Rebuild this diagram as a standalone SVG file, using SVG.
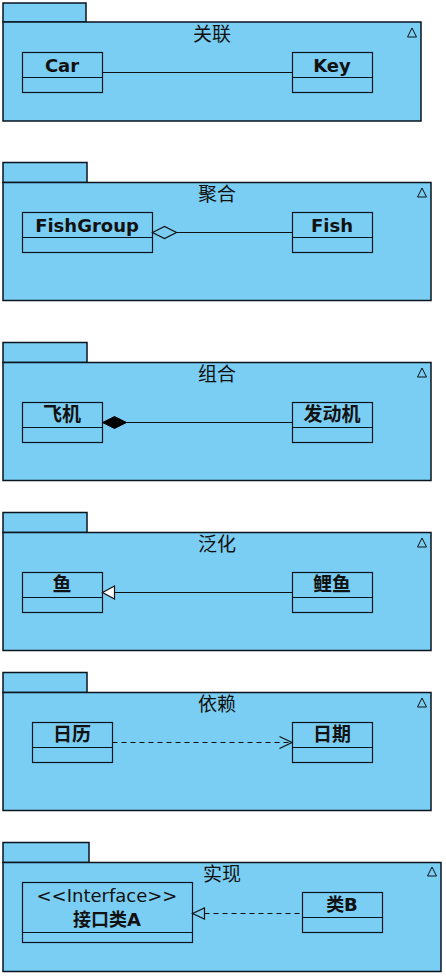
<svg xmlns="http://www.w3.org/2000/svg" width="446" height="976" viewBox="0 0 446 976">
<style>
.pk{fill:#7BCEF3;stroke:#0a1520;stroke-width:1.5}
.cl{fill:#7BCEF3;stroke:#0a1520;stroke-width:1.2}
.dv{stroke:#0a1520;stroke-width:1.2}
.ti{font-family:"Noto Sans CJK SC","DejaVu Sans",sans-serif;font-size:19px;fill:#111;text-anchor:middle}
.nm{font-family:"DejaVu Sans","Noto Sans CJK SC",sans-serif;font-size:18px;font-weight:bold;fill:#111;text-anchor:middle}
.cj{font-size:19px}
.st{font-family:"DejaVu Sans",sans-serif;font-size:18px;fill:#111;text-anchor:middle}
.tri{fill:none;stroke:#111;stroke-width:1}
.ln{stroke:#111;stroke-width:1.2;fill:none}
.da{stroke:#111;stroke-width:1.2;fill:none;stroke-dasharray:5,4}
</style>
<g id="pkg1">
<rect class="pk" x="3" y="3" width="83" height="19"/>
<rect class="pk" x="3" y="22" width="418" height="99"/>
<text class="ti" x="212" y="41">关联</text>
<polygon class="tri" points="412,28 407.5,37 416.5,37"/>
</g>
<g id="Car"><rect class="cl" x="22.5" y="52.5" width="80" height="40"/><line class="dv" x1="22.5" y1="77.5" x2="102.5" y2="77.5"/><text class="nm" x="62" y="72">Car</text></g>
<g id="Key"><rect class="cl" x="292.5" y="52.5" width="80" height="40"/><line class="dv" x1="292.5" y1="77.5" x2="372.5" y2="77.5"/><text class="nm" x="332" y="72">Key</text></g>

<g id="pkg2">
<rect class="pk" x="3" y="162.5" width="84" height="20"/>
<rect class="pk" x="3" y="182.5" width="428" height="118"/>
<text class="ti" x="217" y="201">聚合</text>
<polygon class="tri" points="422,188 417.5,197 426.5,197"/>
</g>
<g id="FishGroup"><rect class="cl" x="22.5" y="212.5" width="130" height="40"/><line class="dv" x1="22.5" y1="237.5" x2="152.5" y2="237.5"/><text class="nm" x="87" y="232">FishGroup</text></g>
<g id="Fish"><rect class="cl" x="292.5" y="212.5" width="80" height="40"/><line class="dv" x1="292.5" y1="237.5" x2="372.5" y2="237.5"/><text class="nm" x="332" y="232">Fish</text></g>

<g id="pkg3">
<rect class="pk" x="3" y="342.5" width="84" height="20"/>
<rect class="pk" x="3" y="362.5" width="428" height="118"/>
<text class="ti" x="217" y="381">组合</text>
<polygon class="tri" points="422,368 417.5,377 426.5,377"/>
</g>
<g id="Plane"><rect class="cl" x="22.5" y="402.5" width="80" height="40"/><line class="dv" x1="22.5" y1="427.5" x2="102.5" y2="427.5"/><text class="nm cj" x="62" y="421">飞机</text></g>
<g id="Engine"><rect class="cl" x="292.5" y="402.5" width="80" height="40"/><line class="dv" x1="292.5" y1="427.5" x2="372.5" y2="427.5"/><text class="nm cj" x="332" y="421">发动机</text></g>

<g id="pkg4">
<rect class="pk" x="3" y="512.5" width="84" height="20"/>
<rect class="pk" x="3" y="532.5" width="428" height="118"/>
<text class="ti" x="217" y="551">泛化</text>
<polygon class="tri" points="422,538 417.5,547 426.5,547"/>
</g>
<g id="Fish2"><rect class="cl" x="22.5" y="572.5" width="80" height="40"/><line class="dv" x1="22.5" y1="597.5" x2="102.5" y2="597.5"/><text class="nm cj" x="62" y="591">鱼</text></g>
<g id="Carp"><rect class="cl" x="292.5" y="572.5" width="80" height="40"/><line class="dv" x1="292.5" y1="597.5" x2="372.5" y2="597.5"/><text class="nm cj" x="332" y="591">鲤鱼</text></g>

<g id="pkg5">
<rect class="pk" x="3" y="672.5" width="84" height="20"/>
<rect class="pk" x="3" y="692.5" width="428" height="118"/>
<text class="ti" x="217" y="711">依赖</text>
<polygon class="tri" points="422,698 417.5,707 426.5,707"/>
</g>
<g id="Calendar"><rect class="cl" x="32.5" y="722.5" width="80" height="40"/><line class="dv" x1="32.5" y1="747.5" x2="112.5" y2="747.5"/><text class="nm cj" x="72" y="741">日历</text></g>
<g id="Date"><rect class="cl" x="292.5" y="722.5" width="80" height="40"/><line class="dv" x1="292.5" y1="747.5" x2="372.5" y2="747.5"/><text class="nm cj" x="332" y="741">日期</text></g>

<g id="pkg6">
<rect class="pk" x="3" y="842.5" width="86" height="20"/>
<rect class="pk" x="3" y="862.5" width="438" height="109"/>
<text class="ti" x="222" y="881">实现</text>
<polygon class="tri" points="432,867 427.5,876 436.5,876"/>
</g>
<g id="InterfaceA"><rect class="cl" x="22.5" y="882.5" width="170" height="60"/><line class="dv" x1="22.5" y1="932.5" x2="192.5" y2="932.5"/><text class="st" x="107" y="902">&lt;&lt;Interface&gt;&gt;</text><text class="nm" x="107" y="926">接口类A</text></g>
<g id="ClassB"><rect class="cl" x="302.5" y="892.5" width="80" height="40"/><line class="dv" x1="302.5" y1="917.5" x2="382.5" y2="917.5"/><text class="nm" x="342" y="911">类B</text></g>

<g id="connectors">
<line class="ln" x1="102.5" y1="72.5" x2="292.5" y2="72.5"/>
<line class="ln" x1="176.5" y1="232.5" x2="292.5" y2="232.5"/>
<polygon points="152.5,232.5 164.5,226.5 176.5,232.5 164.5,238.5" fill="#7BCEF3" stroke="#111" stroke-width="1.2"/>
<line class="ln" x1="126.5" y1="422.5" x2="292.5" y2="422.5"/>
<polygon points="102.5,422.5 114.5,416.5 126.5,422.5 114.5,428.5" fill="#000" stroke="#000" stroke-width="1"/>
<line class="ln" x1="114.5" y1="592.5" x2="292.5" y2="592.5"/>
<polygon points="102.5,592.5 114.5,586 114.5,599" fill="#fff" stroke="#111" stroke-width="1.2"/>
<line class="da" x1="112.5" y1="742.5" x2="291.5" y2="742.5"/>
<polyline class="ln" points="279.5,736.5 292,742.5 279.5,748.5"/>
<line class="da" x1="204.5" y1="913.5" x2="302.5" y2="913.5"/>
<polygon points="192.5,913.5 204.5,908 204.5,919" fill="#7BCEF3" stroke="#111" stroke-width="1.2"/>
</g>
</svg>
